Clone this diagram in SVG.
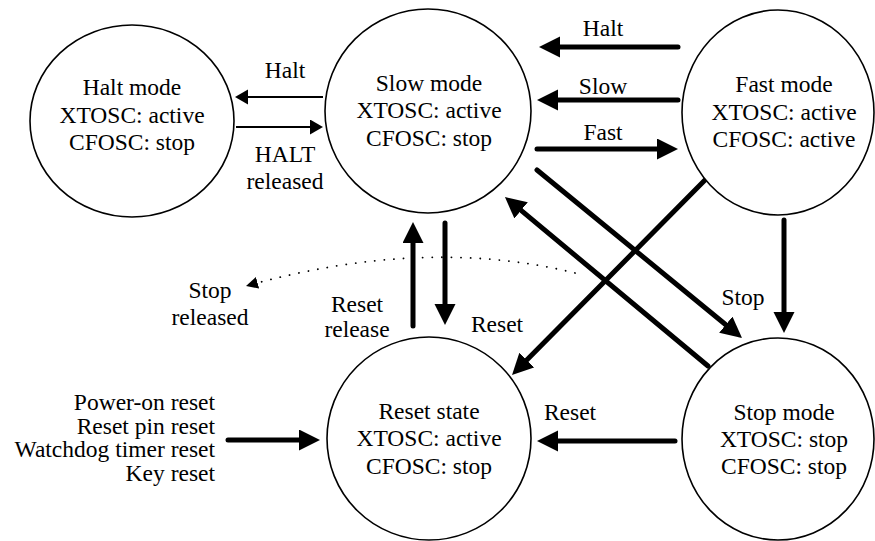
<svg xmlns="http://www.w3.org/2000/svg" width="875" height="541" viewBox="0 0 875 541">
  <style>
    .node { fill: #ffffff; stroke: #000000; stroke-width: 1.6; }
    text { font-family: "Liberation Serif", "DejaVu Serif", serif; font-size: 23.5px; fill: #000000; }
    .c { text-anchor: middle; }
    .r { text-anchor: end; }
    .thick { stroke: #000000; stroke-width: 5; stroke-linecap: round; fill: none; marker-end: url(#headBig); }
    .thin { stroke: #000000; stroke-width: 1.8; fill: none; marker-end: url(#headSmall); }
    .dots { stroke: #000000; stroke-width: 1.8; stroke-linecap: round; stroke-dasharray: 0.1 9.5; fill: none; marker-end: url(#headDot); }
  </style>
  <defs>
    <marker id="headBig" markerUnits="userSpaceOnUse" markerWidth="22" markerHeight="22" refX="0" refY="10.5" orient="auto">
      <path d="M0,0 L21,10.5 L0,21 z" fill="#000000"/>
    </marker>
    <marker id="headSmall" markerUnits="userSpaceOnUse" markerWidth="14" markerHeight="16" refX="0" refY="7.5" orient="auto">
      <path d="M0,0 L13,7.5 L0,15 z" fill="#000000"/>
    </marker>
    <marker id="headDot" markerUnits="userSpaceOnUse" markerWidth="13" markerHeight="13" refX="12" refY="6" orient="auto">
      <path d="M0,0 L12,6 L0,12 z" fill="#000000"/>
    </marker>
  </defs>

  <rect width="875" height="541" fill="#ffffff"/>

  <!-- connectors -->
  <g id="connectors">
    <!-- Halt <-> Slow -->
    <line class="thin" x1="323" y1="97" x2="248" y2="97"/>
    <line class="thin" x1="236" y1="127" x2="310" y2="127"/>
    <!-- Fast -> Slow (Halt, Slow), Slow -> Fast -->
    <line class="thick" x1="678" y1="47" x2="560" y2="47"/>
    <line class="thick" x1="678" y1="100" x2="558" y2="100"/>
    <line class="thick" x1="537" y1="149" x2="657" y2="149"/>
    <!-- diagonals -->
    <line class="thick" x1="537" y1="170" x2="725.8" y2="324.7"/>
    <line class="thick" x1="708" y1="366" x2="521.1" y2="210.4"/>
    <line class="thick" x1="705" y1="180" x2="526.8" y2="360.1"/>
    <!-- Fast -> Stop -->
    <line class="thick" x1="784" y1="220" x2="784" y2="312"/>
    <!-- Slow <-> Reset -->
    <line class="thick" x1="445" y1="223" x2="445" y2="304"/>
    <line class="thick" x1="413" y1="326" x2="413" y2="243"/>
    <!-- Stop -> Reset -->
    <line class="thick" x1="675" y1="441" x2="558" y2="441"/>
    <!-- reset sources -> Reset -->
    <line class="thick" x1="228" y1="440" x2="299" y2="440"/>
    <!-- stop released (dotted) -->
    <path class="dots" d="M575,273 Q425,236 246,286"/>
  </g>

  <!-- nodes -->
  <g id="halt-mode">
    <ellipse class="node" cx="132" cy="121" rx="102" ry="96"/>
    <text class="c" x="132" y="95">Halt mode</text>
    <text class="c" x="132" y="122.5">XTOSC: active</text>
    <text class="c" x="132" y="150">CFOSC: stop</text>
  </g>
  <g id="slow-mode">
    <ellipse class="node" cx="428" cy="111" rx="103" ry="102"/>
    <text class="c" x="429" y="90.5">Slow mode</text>
    <text class="c" x="429" y="118">XTOSC: active</text>
    <text class="c" x="429" y="145.5">CFOSC: stop</text>
  </g>
  <g id="fast-mode">
    <ellipse class="node" cx="778" cy="112.5" rx="96" ry="102.5"/>
    <text class="c" x="784" y="92">Fast mode</text>
    <text class="c" x="784" y="119.5">XTOSC: active</text>
    <text class="c" x="784" y="147">CFOSC: active</text>
  </g>
  <g id="reset-state">
    <ellipse class="node" cx="429" cy="438.5" rx="102" ry="101.5"/>
    <text class="c" x="429" y="418.5">Reset state</text>
    <text class="c" x="429" y="446">XTOSC: active</text>
    <text class="c" x="429" y="473.5">CFOSC: stop</text>
  </g>
  <g id="stop-mode">
    <ellipse class="node" cx="778" cy="439" rx="96" ry="101"/>
    <text class="c" x="784" y="420">Stop mode</text>
    <text class="c" x="784" y="447">XTOSC: stop</text>
    <text class="c" x="784" y="473.5">CFOSC: stop</text>
  </g>

  <!-- connector labels -->
  <g id="labels">
    <text class="c" x="285" y="78">Halt</text>
    <text class="c" x="285" y="162">HALT</text>
    <text class="c" x="285" y="189">released</text>
    <text class="c" x="603" y="36">Halt</text>
    <text class="c" x="603" y="94">Slow</text>
    <text class="c" x="603" y="140">Fast</text>
    <text class="c" x="357" y="312">Reset</text>
    <text class="c" x="357" y="337">release</text>
    <text class="c" x="497" y="332">Reset</text>
    <text class="c" x="743" y="305">Stop</text>
    <text class="c" x="570" y="420">Reset</text>
    <text class="c" x="210" y="298">Stop</text>
    <text class="c" x="210" y="325">released</text>
    <text class="r" x="215" y="410">Power-on reset</text>
    <text class="r" x="215" y="433.5">Reset pin reset</text>
    <text class="r" x="215" y="457">Watchdog timer reset</text>
    <text class="r" x="215" y="480.5">Key reset</text>
  </g>
</svg>
